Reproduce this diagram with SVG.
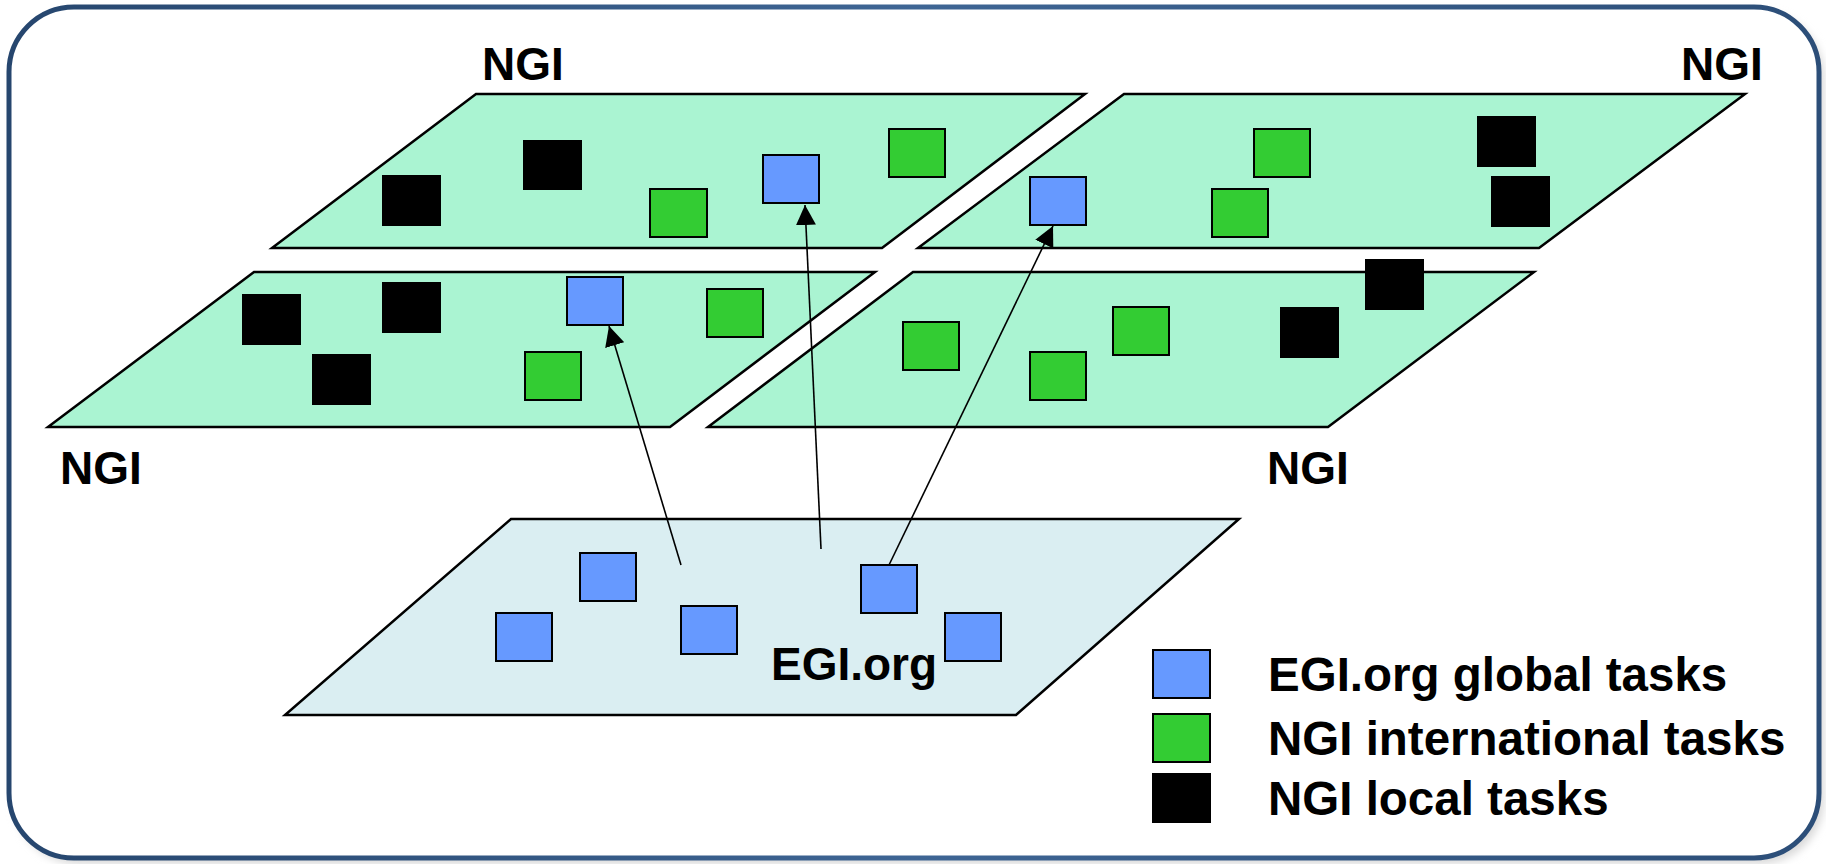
<svg xmlns="http://www.w3.org/2000/svg" width="1826" height="864" viewBox="0 0 1826 864">
<defs>
<style>
.plane{fill:#AAF4D2;stroke:#000;stroke-width:2.5}
.egi{fill:#DAEEF2;stroke:#000;stroke-width:2.5}
.b{fill:#6699FF;stroke:#000;stroke-width:2}
.g{fill:#33CC33;stroke:#000;stroke-width:2}
.k{fill:#000;stroke:#000;stroke-width:2}
.lbl{font-family:"Liberation Sans",Arial,sans-serif;font-weight:bold;font-size:46px;fill:#000}
.leg{font-family:"Liberation Sans",Arial,sans-serif;font-weight:bold;font-size:47.5px;fill:#000}
.conn{stroke:#000;stroke-width:1.6;fill:none;marker-end:url(#ah)}
</style>
<marker id="ah" viewBox="0 0 20 20" refX="20" refY="10" markerWidth="20" markerHeight="20" markerUnits="userSpaceOnUse" orient="auto">
<path d="M0,0 L20,10 L0,20 Z" fill="#000"/>
</marker>
<linearGradient id="frameG" x1="0" y1="0" x2="1" y2="0">
<stop offset="0" stop-color="#26466E"/>
<stop offset="0.5" stop-color="#3E6594"/>
<stop offset="1" stop-color="#2C4E78"/>
</linearGradient>
<filter id="sh" x="-5%" y="-5%" width="110%" height="110%">
<feGaussianBlur stdDeviation="4"/>
</filter>
</defs>
<rect width="1826" height="864" fill="#fff"/>
<g id="frame">
<rect x="14" y="12" width="1810" height="852" rx="65" fill="#d8d8d8" filter="url(#sh)"/>
<rect x="9" y="7" width="1810" height="851" rx="65" fill="#fff" stroke="url(#frameG)" stroke-width="5"/>
</g>
<g id="ngi-top-left">
<polygon class="plane" points="476,94 1085,94 882,248 272,248"/>
<rect class="k" x="383" y="176" width="57" height="49"/>
<rect class="k" x="524" y="141" width="57" height="48"/>
<rect class="g" x="650" y="189" width="57" height="48"/>
<rect class="b" x="763" y="155" width="56" height="48"/>
<rect class="g" x="889" y="129" width="56" height="48"/>
<text class="lbl" x="482" y="80">NGI</text>
</g>
<g id="ngi-top-right">
<polygon class="plane" points="1124,94 1745,94 1539,248 918,248"/>
<rect class="b" x="1030" y="177" width="56" height="48"/>
<rect class="g" x="1254" y="129" width="56" height="48"/>
<rect class="g" x="1212" y="189" width="56" height="48"/>
<rect class="k" x="1478" y="117" width="57" height="49"/>
<rect class="k" x="1492" y="177" width="57" height="49"/>
<text class="lbl" x="1681" y="80">NGI</text>
</g>
<g id="ngi-bottom-left">
<polygon class="plane" points="254,272 875,272 670,427 48,427"/>
<rect class="k" x="243" y="295" width="57" height="49"/>
<rect class="k" x="383" y="283" width="57" height="49"/>
<rect class="k" x="313" y="355" width="57" height="49"/>
<rect class="b" x="567" y="277" width="56" height="48"/>
<rect class="g" x="707" y="289" width="56" height="48"/>
<rect class="g" x="525" y="352" width="56" height="48"/>
<text class="lbl" x="60" y="484">NGI</text>
</g>
<g id="ngi-bottom-right">
<polygon class="plane" points="913,272 1534,272 1328,427 708,427"/>
<rect class="k" x="1366" y="260" width="57" height="49"/>
<rect class="g" x="1113" y="307" width="56" height="48"/>
<rect class="k" x="1281" y="308" width="57" height="49"/>
<rect class="g" x="1030" y="352" width="56" height="48"/>
<rect class="g" x="903" y="322" width="56" height="48"/>
<text class="lbl" x="1267" y="484">NGI</text>
</g>
<g id="egi-org">
<polygon class="egi" points="511,519 1239,519 1016,715 285,715"/>
<rect class="b" x="580" y="553" width="56" height="48"/>
<rect class="b" x="496" y="613" width="56" height="48"/>
<rect class="b" x="681" y="606" width="56" height="48"/>
<rect class="b" x="861" y="565" width="56" height="48"/>
<rect class="b" x="945" y="613" width="56" height="48"/>
<text class="lbl" x="771" y="680">EGI.org</text>
</g>
<g id="connectors">
<line class="conn" x1="681" y1="565" x2="609" y2="326"/>
<line class="conn" x1="821" y1="549" x2="805" y2="205"/>
<line class="conn" x1="889" y1="565" x2="1053" y2="226"/>
</g>
<g id="legend">
<rect class="b" x="1153" y="650" width="57" height="48"/>
<rect class="g" x="1153" y="714" width="57" height="48"/>
<rect class="k" x="1153" y="774" width="57" height="48"/>
<text class="leg" x="1268" y="691">EGI.org global tasks</text>
<text class="leg" x="1268" y="755">NGI international tasks</text>
<text class="leg" x="1268" y="815">NGI local tasks</text>
</g>
</svg>
